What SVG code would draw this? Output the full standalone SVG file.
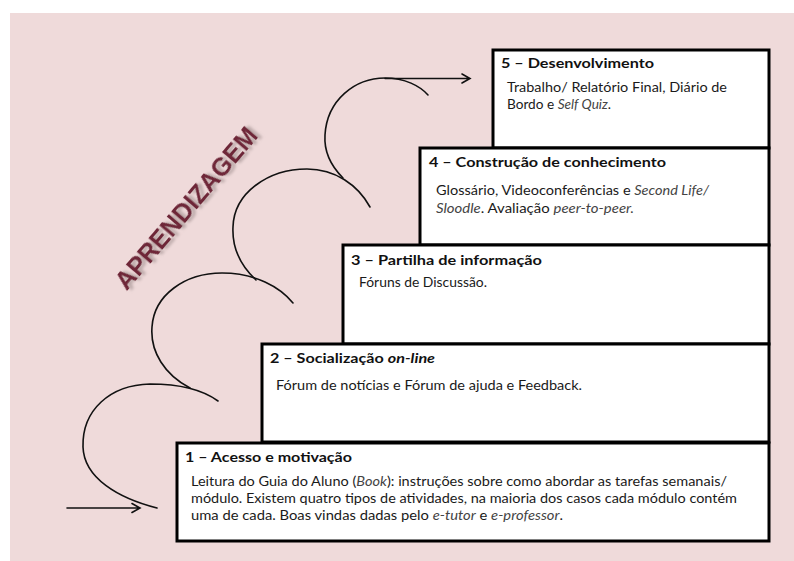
<svg xmlns="http://www.w3.org/2000/svg" width="794" height="561" viewBox="0 0 794 561">
<style>
.box{fill:#fff;stroke:#000;stroke-width:3}
.t{font-family:"Lato","Liberation Sans",sans-serif;font-weight:bold;font-size:14px;fill:#111}
.b{font-family:"Lato","Liberation Sans",sans-serif;font-size:13px;fill:#1a1a1a}
.i{font-style:italic;fill:#444}
.c{fill:none;stroke:#111;stroke-width:1.6;stroke-linecap:round}
.big{font-family:"Liberation Sans",Arial,sans-serif;font-weight:bold;font-size:26px;fill:#6e2539}
</style>
<defs>
<filter id="sh" x="-20%" y="-50%" width="140%" height="200%">
<feGaussianBlur in="SourceAlpha" stdDeviation="1.6"/>
<feOffset dx="3" dy="3" result="o"/>
<feFlood flood-color="#8a7a7a" flood-opacity="0.55"/>
<feComposite in2="o" operator="in"/>
<feMerge><feMergeNode/><feMergeNode in="SourceGraphic"/></feMerge>
</filter>
</defs>
<rect x="10" y="13" width="784" height="548" fill="#efdada"/>
<g id="title">
<text class="big" filter="url(#sh)" transform="translate(186,208) rotate(-49.5)" x="0" y="9" text-anchor="middle" textLength="204" lengthAdjust="spacingAndGlyphs">APRENDIZAGEM</text>
</g>
<g id="connectors">
<path class="c" d="M67,508 L140,508 M132,503.5 L140,508 L132,512.5"/>
<path class="c" d="M157,508 C118,498 84,478 83,447 C82,410 110,385 150,384 C180,384 203,390 218,401"/>
<path class="c" d="M190,388 C165,375 150,352 152,327 C154,295 185,273 222,273 C255,273 280,287 293,303"/>
<path class="c" d="M256,280 C240,265 232,247 233,227 C234,193 268,169 307,169 C335,169 358,185 370,207"/>
<path class="c" d="M343,178 C330,165 324,150 325,135 C327,100 355,78 385,78 C405,78 420,86 428,95"/>
<path class="c" d="M385,78.5 L470,78.5 M462,74 L470,78.5 L462,83"/>
</g>
<g id="node5">
<rect class="box" x="493" y="50" width="276" height="98"/>
<text class="t" x="501" y="67.5" textLength="153" lengthAdjust="spacingAndGlyphs">5 – Desenvolvimento</text>
<text class="b" x="507" y="91.5" textLength="220" lengthAdjust="spacingAndGlyphs">Trabalho/ Relatório Final, Diário de</text>
<text class="b" x="507" y="109" textLength="104" lengthAdjust="spacingAndGlyphs">Bordo e <tspan class="i">Self Quiz</tspan>.</text>
</g>
<g id="node4">
<rect class="box" x="420" y="148" width="349" height="97"/>
<text class="t" x="429" y="167" textLength="237" lengthAdjust="spacingAndGlyphs">4 – Construção  de conhecimento</text>
<text class="b" x="436" y="195" textLength="273" lengthAdjust="spacingAndGlyphs">Glossário, Videoconferências e <tspan class="i">Second Life/</tspan></text>
<text class="b" x="436" y="212.5" textLength="198" lengthAdjust="spacingAndGlyphs"><tspan class="i">Sloodle</tspan>. Avaliação <tspan class="i">peer-to-peer.</tspan></text>
</g>
<g id="node3">
<rect class="box" x="343" y="245" width="426" height="99"/>
<text class="t" x="351" y="265" textLength="191" lengthAdjust="spacingAndGlyphs">3 – Partilha de informação</text>
<text class="b" x="359" y="287" textLength="128" lengthAdjust="spacingAndGlyphs">Fóruns de Discussão.</text>
</g>
<g id="node2">
<rect class="box" x="262" y="344" width="507" height="98"/>
<text class="t" x="270" y="363" textLength="165" lengthAdjust="spacingAndGlyphs">2 – Socialização <tspan font-style="italic">on-line</tspan></text>
<text class="b" x="276" y="390" textLength="306" lengthAdjust="spacingAndGlyphs">Fórum de notícias  e Fórum de ajuda e  Feedback.</text>
</g>
<g id="node1">
<rect class="box" x="177" y="443" width="592" height="98"/>
<text class="t" x="185" y="462" textLength="167" lengthAdjust="spacingAndGlyphs">1 – Acesso e motivação</text>
<text class="b" x="191" y="486" textLength="536" lengthAdjust="spacingAndGlyphs">Leitura do Guia do Aluno (<tspan class="i">Book</tspan>): instruções sobre como abordar as tarefas semanais/</text>
<text class="b" x="191" y="503" textLength="546" lengthAdjust="spacingAndGlyphs">módulo. Existem quatro tipos de atividades, na maioria dos casos cada módulo contém</text>
<text class="b" x="191" y="520" textLength="372" lengthAdjust="spacingAndGlyphs">uma de cada. Boas vindas dadas pelo <tspan class="i">e-tutor</tspan> e <tspan class="i">e-professor</tspan>.</text>
</g>
</svg>
